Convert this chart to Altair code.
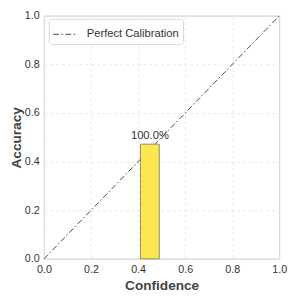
import altair as alt
import pandas as pd

# Data
bin_left = [0.41]
bin_right = [0.49]
accuracy = [0.472]
labels = ["100.0%"]
diag_x = [0.0, 1.0]
diag_y = [0.0, 1.0]
series = ["Perfect Calibration", "Perfect Calibration"]

bars = pd.DataFrame({"x": bin_left, "x2": bin_right, "y": accuracy,
                     "xc": [(a + b) / 2 for a, b in zip(bin_left, bin_right)],
                     "label": labels})
diag = pd.DataFrame({"x": diag_x, "y": diag_y, "s": series})

xs = alt.Scale(domain=[0, 1], nice=False)
ys = alt.Scale(domain=[0, 1], nice=False)

x_axis = alt.Axis(title="Confidence", values=[0, 0.2, 0.4, 0.6, 0.8, 1.0], format=".1f",
                  labelPadding=5, titlePadding=4, labelFlush=False)
y_axis = alt.Axis(title="Accuracy", values=[0, 0.2, 0.4, 0.6, 0.8, 1.0], format=".1f",
                  labelPadding=5, titlePadding=1, labelFlush=False)

bar = alt.Chart(bars).mark_rect(fill="#FDE74E", stroke="#8a8a74", strokeWidth=1).encode(
    x=alt.X("x:Q", scale=xs, axis=x_axis),
    x2="x2:Q",
    y=alt.Y("y:Q", scale=ys, axis=y_axis),
    y2=alt.datum(0),
)

txt = alt.Chart(bars).mark_text(dy=-8, fontSize=11.5, color="#333333",
                                font="Liberation Sans").encode(
    x=alt.X("xc:Q", scale=xs),
    y=alt.Y("y:Q", scale=ys),
    text="label:N",
)

line = alt.Chart(diag).mark_line(strokeDash=[6, 2.5, 1.5, 2.5], strokeWidth=1).encode(
    x=alt.X("x:Q", scale=xs),
    y=alt.Y("y:Q", scale=ys),
    color=alt.Color("s:N", scale=alt.Scale(range=["#444444"]),
                    legend=alt.Legend(title=None, orient="none", legendX=5, legendY=3,
                                      symbolType="stroke", symbolSize=529,
                                      symbolDash=[6, 2.5, 1.5, 2.5], symbolStrokeWidth=1,
                                      labelFontSize=11.5, labelColor="#333333",
                                      labelFont="Liberation Sans", labelOffset=11,
                                      strokeColor="#d9d9d9", fillColor="white",
                                      padding=4, cornerRadius=3)),
)

chart = alt.layer(line, bar, txt).properties(
    width=242, height=250,
    autosize=alt.AutoSizeParams(type="none"),
    padding={"left": 37, "top": 4, "right": 10, "bottom": 30},
).configure_view(
    stroke="#d6d6d6", strokeWidth=1.2
).configure_axis(
    domain=False, ticks=False,
    grid=True, gridColor="#e3e3e3", gridDash=[3, 3], gridWidth=0.8,
    labelFont="Liberation Sans", labelFontSize=11, labelColor="#333333",
    titleFont="Liberation Sans", titleFontSize=14, titleFontWeight="bold", titleColor="#444444",
)

chart.save("out.html", embed_options={"renderer": "svg", "actions": False})
